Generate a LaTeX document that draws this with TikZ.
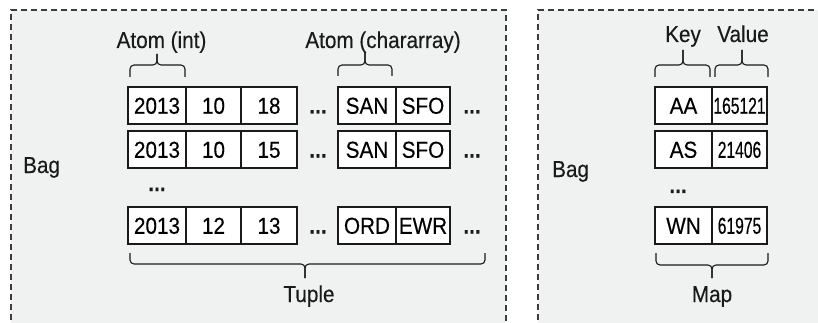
\documentclass[tikz,border=0pt]{standalone}
\usepackage{fontspec}
\setmainfont[FakeStretch=0.9,FakeBold=0.3]{Liberation Sans}
\newfontfamily\narrowfont[FakeStretch=0.68,FakeBold=0.3]{Liberation Sans}
\definecolor{panel}{HTML}{F0F1F1}
\definecolor{ink}{HTML}{1A1A1A}
\begin{document}
\begin{tikzpicture}[x=1pt,y=-1pt, font=\fontsize{23}{27}\selectfont,
  cell/.style={draw=ink, line width=1.1pt, fill=white, minimum height=37pt,
    inner sep=0pt, text height=16.5pt, text depth=0pt},
  panelborder/.style={draw=ink!85, line width=1.2pt, dash pattern=on 6pt off 4pt},
  lbl/.style={inner sep=0pt, anchor=base, text=ink},
  dots/.style={lbl, font=\fontsize{23}{27}\selectfont\bfseries},
  bracepath/.style={draw=ink, line width=1.1pt, rounded corners=4pt}]

\useasboundingbox (0,0) rectangle (818,323);
\fill[white] (0,0) rectangle (818,323);

% panels
\fill[panel] (11,10) rectangle (506,330);
\draw[panelborder] (11,330) -- (11,10) -- (506,10) -- (506,330);
\fill[panel] (538,10) rectangle (830,330);
\draw[panelborder] (538,330) -- (538,10) -- (830,10);

% left panel: tuples
\foreach \r/\y/\a/\b/\c/\d/\e in {1/105.5/2013/10/18/SAN/SFO,
                                  2/149.5/2013/10/15/SAN/SFO,
                                  3/225.5/2013/12/13/ORD/EWR} {
  \node[cell, minimum width=58pt] (yr\r) at (157,\y) {\a};
  \node[cell, minimum width=55pt] (mo\r) at (213.5,\y) {\b};
  \node[cell, minimum width=56pt] (dy\r) at (269,\y) {\c};
  \node[dots] (da\r) at (318,\y+8) {...};
  \node[cell, minimum width=58pt] (or\r) at (367,\y) {\d};
  \node[cell, minimum width=54pt] (de\r) at (423,\y) {\e};
  \node[dots] (db\r) at (472,\y+8) {...};
}
\node[dots] (rowdots) at (157,191) {...};

\node[lbl] (atomint) at (161.5,48) {Atom (int)};
\node[lbl] (atomchar) at (383,48) {Atom (chararray)};
\node[lbl, anchor=base west] (bagL) at (23,173) {Bag};
\node[lbl] (tuple) at (309,302) {Tuple};

% braces left
\draw[bracepath] (130,77) -- (130,65) -- (157,65) -- (157,54);
\draw[bracepath] (185,77) -- (185,65) -- (157,65) -- (157,54);
\draw[bracepath] (338,76) -- (338,65) -- (365,65) -- (365,52);
\draw[bracepath] (392,76) -- (392,65) -- (365,65) -- (365,52);
\draw[bracepath] (130,253) -- (130,264) -- (305,264) -- (305,278);
\draw[bracepath] (485,253) -- (485,264) -- (305,264) -- (305,278);

% right panel: map
\foreach \r/\y/\k/\v in {1/105.5/AA/165121, 2/149.5/AS/21406, 3/225.5/WN/61975} {
  \node[cell, minimum width=57pt] (key\r) at (683.5,\y) {\k};
  \node[cell, minimum width=55pt] (val\r) at (739.5,\y) {\narrowfont\v};
}
\node[dots] (mapdots) at (678,193) {...};

\node[lbl] (keylbl) at (683,42) {Key};
\node[lbl] (vallbl) at (743,42) {Value};
\node[lbl, anchor=base west] (bagR) at (552,177) {Bag};
\node[lbl] (maplbl) at (712,302) {Map};

\draw[bracepath] (655,77) -- (655,65) -- (683,65) -- (683,50);
\draw[bracepath] (710,77) -- (710,65) -- (683,65) -- (683,50);
\draw[bracepath] (715,77) -- (715,65) -- (742,65) -- (742,50);
\draw[bracepath] (768,77) -- (768,65) -- (742,65) -- (742,50);
\draw[bracepath] (656,253) -- (656,265) -- (712,265) -- (712,278);
\draw[bracepath] (768,253) -- (768,265) -- (712,265) -- (712,278);
\end{tikzpicture}
\end{document}
